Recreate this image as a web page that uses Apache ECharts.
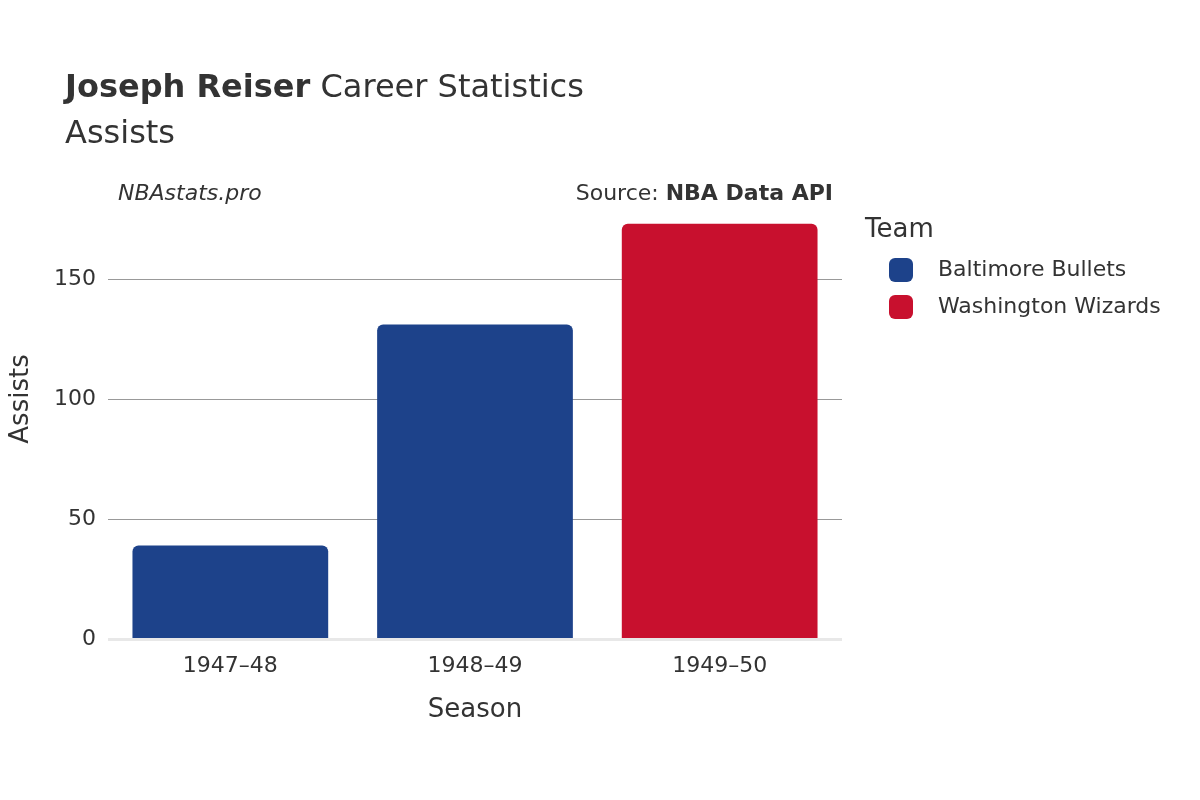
<!DOCTYPE html>
<html>
<head>
<meta charset="UTF-8">
<script src="https://cdn.jsdelivr.net/npm/echarts@6/dist/echarts.min.js"></script>
<style>
  body { margin: 0; background: #fff; }
  #chart { width: 1200px; height: 800px; }
</style>
</head>
<body>
<div id="chart"></div>
<script>
// 数据
const seasons = ['1947–48', '1948–49', '1949–50'];
const bulletsAssists = [39, 131, '-'];
const wizardsAssists = ['-', '-', 173];
const yTicks = [0, 50, 100, 150, 200];

const chart = echarts.init(document.getElementById('chart'));
const font = 'DejaVu Sans';

chart.setOption({
    textStyle: { fontFamily: font },
    title: [
        {
            text: '{b|Joseph Reiser} Career Statistics',
            left: 60, top: 68,
            textStyle: { fontSize: 32, color: '#333', fontWeight: 'normal',
                rich: { b: { fontSize: 32, fontWeight: 'bold', color: '#333', fontFamily: font } } }
        },
        { text: 'Assists', left: 60, top: 114, textStyle: { fontSize: 32, color: '#333', fontWeight: 'normal' } },
        { text: 'NBAstats.pro', left: 113, top: 178, textStyle: { fontSize: 22, color: '#333', fontStyle: 'italic', fontWeight: 'normal' } },
        {
            text: 'Source: {b|NBA Data API}', right: 362, top: 178,
            textStyle: { fontSize: 22, color: '#333', fontWeight: 'normal',
                rich: { b: { fontSize: 22, fontWeight: 'bold', color: '#333', fontFamily: font } } }
        },
        { text: 'Team', left: 860, top: 212, textStyle: { fontSize: 26, color: '#333', fontWeight: 'normal' } }
    ],
    legend: {
        orient: 'vertical', left: 884, top: 253, itemGap: 13,
        itemWidth: 24, itemHeight: 24, icon: 'roundRect',
        textStyle: { fontSize: 22, color: '#333', padding: [0, 0, 0, 20] },
        data: ['Baltimore Bullets', 'Washington Wizards']
    },
    grid: { left: 108, right: 358, top: 159, bottom: 161 },
    xAxis: {
        type: 'category', data: seasons,
        name: 'Season', nameLocation: 'middle', nameGap: 58,
        nameTextStyle: { fontSize: 26, color: '#333' },
        axisLine: { show: false }, axisTick: { show: false },
        axisLabel: { fontSize: 22, color: '#333', margin: 16 }
    },
    yAxis: {
        type: 'value', min: yTicks[0], max: yTicks[yTicks.length - 1], interval: 50,
        name: 'Assists', nameLocation: 'middle', nameGap: 74,
        nameTextStyle: { fontSize: 26, color: '#333' },
        axisLabel: { fontSize: 22, color: '#333', margin: 12,
            formatter: v => (v === 200 ? '' : v) },
        splitLine: { lineStyle: { color: ['#e8e8e8', '#999', '#999', '#999', 'rgba(0,0,0,0)'], width: 1 } }
    },
    series: [
        {
            name: 'Baltimore Bullets', type: 'bar', stack: 't', data: bulletsAssists,
            barCategoryGap: '20%',
            itemStyle: { color: '#1d428a', borderRadius: [6, 6, 0, 0] }
        },
        {
            name: 'Washington Wizards', type: 'bar', stack: 't', data: wizardsAssists,
            barCategoryGap: '20%',
            itemStyle: { color: '#c8102e', borderRadius: [6, 6, 0, 0] }
        },
        {
            type: 'line', data: [], markLine: {
                silent: true, symbol: 'none', label: { show: false },
                lineStyle: { color: '#e8e8e8', width: 3, type: 'solid' },
                data: [{ yAxis: 0 }]
            }
        }
    ]
});
</script>
</body>
</html>
